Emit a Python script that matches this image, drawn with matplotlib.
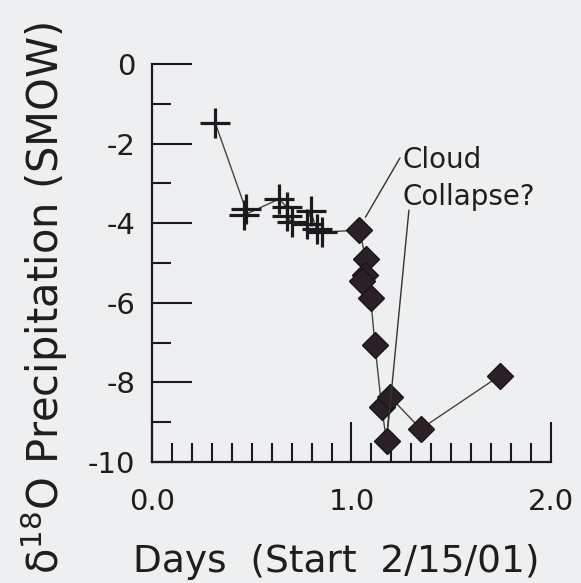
import numpy as np
import matplotlib.pyplot as plt
from matplotlib.ticker import MultipleLocator

plt.rcParams['font.family'] = ['DejaVu Sans']
plt.rcParams['mathtext.fontset'] = 'dejavusans'
plt.rcParams['axes.unicode_minus'] = False

# early samples (crosses)
days_a = [0.317, 0.47, 0.46, 0.638, 0.675, 0.675, 0.70, 0.775, 0.795, 0.825, 0.85]
d18o_a = [-1.48, -3.65, -3.80, -3.39, -3.60, -3.81, -3.98, -4.02, -3.69, -4.15, -4.23]

# later samples (diamonds)
days_b = [1.039, 1.073, 1.068, 1.051, 1.096, 1.118, 1.151, 1.176, 1.193, 1.347, 1.744]
d18o_b = [-4.17, -4.91, -5.29, -5.45, -5.87, -7.07, -8.61, -9.48, -8.36, -9.17, -7.83]

xticks = [0.0, 1.0, 2.0]
xticklabels = ['0.0', '1.0', '2.0']
yticks = [0, -2, -4, -6, -8, -10]

bg = '#edeff0'
ink = '#1c1a1c'
txt = '#1e1e1e'

fig = plt.figure(figsize=(5.81, 5.83), dpi=100, facecolor=bg)
ax = fig.add_axes([0.2616, 0.2075, 0.6867, 0.6827], facecolor=bg)

# the whole series as one connected line
ax.plot(days_a + days_b, d18o_a + d18o_b, color='#444444', lw=1.0, zorder=2)
ax.plot(days_a, d18o_a, ls='none', marker='+', ms=22, mew=2.3, color=ink, zorder=3)
ax.plot(days_b, d18o_b, ls='none', marker='D', ms=13.5, mew=1, color='#2a2026',
        mec='#1a1418', zorder=3)

ax.text(1.258, -2.61, 'Cloud', fontsize=20, ha='left', va='baseline', color=txt)
ax.text(1.258, -3.54, 'Collapse?', fontsize=20, ha='left', va='baseline', color=txt)
ax.annotate('', xy=(1.07, -3.85), xytext=(1.243, -2.36),
            arrowprops=dict(arrowstyle='-', color='#333333', lw=1.0, shrinkA=0, shrinkB=0))
ax.annotate('', xy=(1.183, -9.12), xytext=(1.288, -3.67),
            arrowprops=dict(arrowstyle='-', color='#333333', lw=1.0, shrinkA=0, shrinkB=0))

ax.set_xlim(0, 2)
ax.set_ylim(-10, 0)
ax.set_xticks(xticks)
ax.set_xticklabels(xticklabels)
ax.set_yticks(yticks)
ax.set_yticklabels([str(v) for v in yticks])
ax.xaxis.set_minor_locator(MultipleLocator(0.1))
ax.yaxis.set_minor_locator(MultipleLocator(1))

for s in ['top', 'right']:
    ax.spines[s].set_visible(False)
for s in ['left', 'bottom']:
    ax.spines[s].set_linewidth(1.6)
    ax.spines[s].set_color(ink)

ax.tick_params(which='major', direction='in', length=28.5, width=1.5, color=ink,
               labelsize=21, labelcolor=txt)
ax.tick_params(which='minor', direction='in', length=14, width=1.5, color=ink)
ax.tick_params(axis='x', which='major', pad=19)
ax.tick_params(axis='y', which='major', pad=12)

ax.set_xlabel('Days  (Start  2/15/01)', fontsize=27, color=txt)
ax.set_ylabel(r'δ$^{18}$O Precipitation (SMOW)', fontsize=30, color=txt)
ax.xaxis.set_label_coords(0.462, -0.2055)
ax.yaxis.set_label_coords(-0.205, 0.412)

fig.savefig('out.png', dpi=100, facecolor=bg)
